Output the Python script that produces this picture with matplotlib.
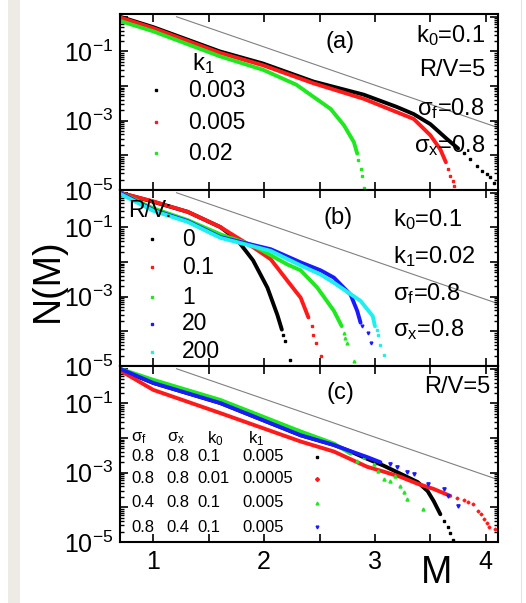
import numpy as np
import matplotlib.pyplot as plt
from matplotlib.ticker import FixedLocator, FixedFormatter, LogLocator, NullFormatter
from matplotlib.patches import Rectangle
from matplotlib.lines import Line2D

plt.rcParams['font.family'] = ['Liberation Sans', 'DejaVu Sans']
plt.rcParams['mathtext.default'] = 'regular'

# reference line (same in every panel)
ref_M = [1.21, 4.11]
ref_logN = [0.0, -3.2]

# panel (a): k1 = 0.003, 0.005, 0.02
a_labels = ['0.003', '0.005', '0.02']
a_black_M = [0.70, 1.0, 1.6, 1.99, 2.445, 2.90, 3.195, 3.35, 3.50, 3.65, 3.75]
a_black_logN = [0.0, -0.30, -1.00, -1.35, -1.87, -2.25, -2.60, -2.81, -3.10, -3.53, -3.80]
a_black_tail_M = [3.80, 3.86, 3.92, 3.97, 4.01, 4.04, 4.07]
a_black_tail_logN = [-3.92, -4.10, -4.30, -4.45, -4.55, -4.62, -4.79]
a_red_M = [0.70, 1.0, 1.6, 1.99, 2.445, 2.90, 3.195, 3.35, 3.50, 3.59, 3.64]
a_red_logN = [-0.02, -0.33, -1.04, -1.40, -1.92, -2.37, -2.75, -2.95, -3.42, -3.83, -4.20]
a_red_tail_M = [3.66, 3.68, 3.70, 3.71]
a_red_tail_logN = [-4.40, -4.60, -4.75, -4.88]
a_green_M = [0.70, 1.0, 1.6, 1.99, 2.29, 2.445, 2.60, 2.72, 2.81, 2.84]
a_green_logN = [-0.12, -0.42, -1.14, -1.53, -1.96, -2.31, -2.66, -3.13, -3.62, -3.95]
a_green_tail_M = [2.85, 2.87, 2.88, 2.90]
a_green_tail_logN = [-4.12, -4.40, -4.59, -4.94]

# panel (b): R/V = 0, 0.1, 1, 20, 200  (k1 = 0.02)
b_labels = ['0', '0.1', '1', '20', '200']
b_black_M = [0.70, 1.0, 1.31, 1.605, 1.76, 1.90, 2.03, 2.12, 2.16]
b_black_logN = [0.0, -0.26, -0.55, -0.99, -1.37, -1.95, -2.74, -3.53, -3.95]
b_black_tail_M = [2.17, 2.19, 2.23]
b_black_tail_logN = [-4.10, -4.29, -4.84]
b_red_M = [0.70, 1.0, 1.31, 1.605, 1.76, 1.90, 2.06, 2.21, 2.33, 2.40]
b_red_logN = [0.0, -0.25, -0.55, -0.99, -1.30, -1.57, -1.92, -2.54, -3.03, -3.60]
b_red_tail_M = [2.43, 2.445, 2.47, 2.51]
b_red_tail_logN = [-3.85, -4.10, -4.35, -4.72]
b_green_M = [0.70, 1.0, 1.31, 1.605, 1.90, 2.21, 2.33, 2.48, 2.63, 2.70]
b_green_logN = [0.0, -0.45, -0.79, -1.20, -1.52, -2.07, -2.24, -2.74, -3.41, -3.85]
b_green_tail_M = [2.72, 2.73, 2.75, 2.81]
b_green_tail_logN = [-4.05, -4.20, -4.34, -4.87]
b_blue_M = [0.70, 1.0, 1.31, 1.605, 2.06, 2.33, 2.51, 2.63, 2.78, 2.84, 2.87]
b_blue_logN = [0.0, -0.50, -0.82, -1.28, -1.63, -2.01, -2.24, -2.45, -2.94, -3.41, -3.75]
b_blue_tail_M = [2.88, 2.94, 2.96]
b_blue_tail_logN = [-3.85, -4.05, -4.34]
b_cyan_M = [0.70, 1.0, 1.31, 1.605, 2.06, 2.33, 2.51, 2.63, 2.87, 2.98, 3.00]
b_cyan_logN = [-0.03, -0.52, -0.84, -1.30, -1.68, -2.10, -2.36, -2.60, -3.12, -3.56, -3.85]
b_cyan_tail_M = [3.02, 3.03, 3.05, 3.08]
b_cyan_tail_logN = [-3.95, -4.11, -4.40, -4.69]

# panel (c): R/V = 5
c_header = ['σ$_f$', 'σ$_x$', 'k$_0$', 'k$_1$']
c_rows = [['0.8', '0.8', '0.1', '0.005'],
          ['0.8', '0.8', '0.01', '0.0005'],
          ['0.4', '0.8', '0.1', '0.005'],
          ['0.8', '0.4', '0.1', '0.005']]
c_black_M = [0.70, 1.0, 1.605, 2.33, 2.63, 2.78, 2.93, 3.08, 3.23, 3.385, 3.475, 3.53, 3.59]
c_black_logN = [-0.02, -0.41, -0.99, -1.92, -2.20, -2.39, -2.60, -2.80, -3.03, -3.27, -3.53, -3.82, -4.20]
c_black_tail_M = [3.62, 3.655, 3.68, 3.70]
c_black_tail_logN = [-4.38, -4.58, -4.75, -4.93]
c_red_M = [0.70, 1.0, 1.605, 2.33, 2.63, 2.93, 3.08, 3.23, 3.385, 3.53, 3.68]
c_red_logN = [-0.05, -0.61, -1.28, -2.10, -2.39, -2.83, -2.97, -3.12, -3.32, -3.47, -3.67]
c_red_tail_M = [3.74, 3.80, 3.84, 3.88, 3.93, 3.96, 3.98, 4.01, 4.03, 4.08]
c_red_tail_logN = [-3.72, -3.80, -3.85, -3.90, -4.11, -4.20, -4.35, -4.45, -4.58, -4.62]
c_green_M = [0.70, 1.0, 1.605, 2.33, 2.63, 2.78]
c_green_logN = [0.0, -0.32, -0.90, -1.81, -2.16, -2.45]
c_green_tail_M = [2.84, 2.90, 2.99, 3.03, 3.08, 3.14, 3.18, 3.23, 3.26, 3.29, 3.43]
c_green_tail_logN = [-2.65, -2.55, -2.74, -2.95, -3.18, -3.24, -3.10, -3.38, -3.56, -3.76, -4.05]
c_blue_M = [0.70, 1.0, 1.605, 2.33, 2.63, 2.78, 2.93, 3.05]
c_blue_logN = [0.0, -0.41, -0.99, -1.92, -2.20, -2.38, -2.55, -2.70]
c_blue_tail_M = [3.14, 3.20, 3.29, 3.35, 3.475, 3.62, 3.655, 3.75]
c_blue_tail_logN = [-2.74, -2.85, -2.97, -3.05, -3.32, -3.47, -3.67, -3.97]

BLACK, RED, GREEN, BLUE, CYAN = 'black', '#ff1a1a', '#1ee81e', '#1a1aff', '#1ef0f0'

fig = plt.figure(figsize=(5.26, 6.03), dpi=100)
fig.add_artist(Rectangle((8 / 526, 0), 12 / 526, 1, transform=fig.transFigure,
                         facecolor='#eeebe6', edgecolor='none'))
fig.add_artist(Line2D([521 / 526, 521 / 526], [0, 1], transform=fig.transFigure,
                      color='#e4e4e4', lw=0.8))

left, width, h = 120 / 526, 378 / 526, 176 / 603
tops = [14, 190, 366]
axes = []
for t in tops:
    ax = fig.add_axes([left, 1 - (t + 176) / 603, width, h])
    axes.append(ax)


def style(ax, bottom_labels):
    ax.set_yscale('log')
    ax.set_xlim(0.70, 4.11)
    ax.set_ylim(1e-5, 1.2)
    ax.yaxis.set_major_locator(FixedLocator([1e-5, 1e-4, 1e-3, 1e-2, 1e-1, 1.0]))
    ax.yaxis.set_major_formatter(FixedFormatter(['10$^{-5}$', '', '10$^{-3}$', '', '10$^{-1}$', '']))
    ax.yaxis.set_minor_locator(LogLocator(base=10, subs=np.arange(2, 10), numticks=20))
    ax.yaxis.set_minor_formatter(NullFormatter())
    ax.set_xticks([1, 1.5, 2, 2.5, 3, 3.5, 4])
    if bottom_labels:
        ax.set_xticklabels(['1', '', '2', '', '3', '', '4'])
    else:
        ax.set_xticklabels([])
    ax.tick_params(which='both', direction='in', top=True, right=True, labelsize=18)
    ax.tick_params(axis='y', which='major', length=5.5, width=1.2, pad=5)
    ax.tick_params(axis='y', which='minor', length=3, width=1.0)
    ax.tick_params(axis='x', which='major', length=6, width=1.2, pad=6)
    for s in ax.spines.values():
        s.set_linewidth(1.5)
    ax.plot(ref_M, 10 ** np.array(ref_logN), color='#808080', lw=0.8, zorder=1)


def series(ax, M, logN, tM, tlogN, color, marker='s', ms=1.5):
    ax.plot(M, 10 ** np.array(logN), color=color, lw=2.8, solid_capstyle='round', zorder=2)
    ax.plot(tM, 10 ** np.array(tlogN), ls='none', marker=marker, ms=ms, color=color,
            mec=color, zorder=2)


ax = axes[0]
style(ax, False)
series(ax, a_black_M, a_black_logN, a_black_tail_M, a_black_tail_logN, BLACK)
series(ax, a_red_M, a_red_logN, a_red_tail_M, a_red_tail_logN, RED)
series(ax, a_green_M, a_green_logN, a_green_tail_M, a_green_tail_logN, GREEN)
ax.text(0.582, 0.84, '(a)', transform=ax.transAxes, fontsize=17, ha='center', va='center')
for txt, y in zip(['k$_0$=0.1', 'R/V=5', 'σ$_f$=0.8', 'σ$_x$=0.8'], [0.88, 0.682, 0.465, 0.255]):
    ax.text(0.966, y, txt, transform=ax.transAxes, fontsize=17, ha='right', va='center')
ax.text(0.22, 0.72, 'k$_1$', transform=ax.transAxes, fontsize=17, ha='center', va='center')
for lab, col, y in zip(a_labels, [BLACK, RED, GREEN], [0.568, 0.386, 0.21]):
    ax.plot([0.095], [y], transform=ax.transAxes, marker='s', ms=1.6, color=col, ls='none')
    ax.text(0.18, y, lab, transform=ax.transAxes, fontsize=16.5, ha='left', va='center')

ax = axes[1]
style(ax, False)
series(ax, b_black_M, b_black_logN, b_black_tail_M, b_black_tail_logN, BLACK)
series(ax, b_red_M, b_red_logN, b_red_tail_M, b_red_tail_logN, RED)
series(ax, b_green_M, b_green_logN, b_green_tail_M, b_green_tail_logN, GREEN, marker='^', ms=2)
series(ax, b_blue_M, b_blue_logN, b_blue_tail_M, b_blue_tail_logN, BLUE, marker='v', ms=2)
series(ax, b_cyan_M, b_cyan_logN, b_cyan_tail_M, b_cyan_tail_logN, CYAN)
ax.text(0.577, 0.84, '(b)', transform=ax.transAxes, fontsize=17, ha='center', va='center')
for txt, y in zip(['k$_0$=0.1', 'k$_1$=0.02', 'σ$_f$=0.8', 'σ$_x$=0.8'], [0.83, 0.62, 0.41, 0.205]):
    ax.text(0.722, y, txt, transform=ax.transAxes, fontsize=17, ha='left', va='center')
ax.text(0.021, 0.886, 'R/V:', transform=ax.transAxes, fontsize=16.5, ha='left', va='center')
for lab, col, y in zip(b_labels, [BLACK, RED, GREEN, BLUE, CYAN], [0.72, 0.56, 0.392, 0.239, 0.08]):
    ax.plot([0.085], [y], transform=ax.transAxes, marker='s', ms=1.6, color=col, ls='none')
    ax.text(0.164, y, lab, transform=ax.transAxes, fontsize=16.5, ha='left', va='center')

ax = axes[2]
style(ax, True)
series(ax, c_black_M, c_black_logN, c_black_tail_M, c_black_tail_logN, BLACK)
series(ax, c_red_M, c_red_logN, c_red_tail_M, c_red_tail_logN, RED, marker='D', ms=1.5)
series(ax, c_green_M, c_green_logN, c_green_tail_M, c_green_tail_logN, GREEN, marker='^', ms=2.2)
series(ax, c_blue_M, c_blue_logN, c_blue_tail_M, c_blue_tail_logN, BLUE, marker='v', ms=2.4)
ax.text(0.582, 0.847, '(c)', transform=ax.transAxes, fontsize=17, ha='center', va='center')
ax.text(0.979, 0.88, 'R/V=5', transform=ax.transAxes, fontsize=17, ha='right', va='center')
col_x = [0.029, 0.124, 0.206, 0.325]
head_x = [0.029, 0.124, 0.23, 0.339]
for txt, x in zip(c_header, head_x):
    ax.text(x, 0.59, txt, transform=ax.transAxes, fontsize=12, ha='left', va='center')
row_y = [0.483, 0.358, 0.222, 0.085]
for row, y, col, mk in zip(c_rows, row_y, [BLACK, RED, GREEN, BLUE], ['s', 'D', '^', 'v']):
    for txt, x in zip(row, col_x):
        ax.text(x, y, txt, transform=ax.transAxes, fontsize=12, ha='left', va='center')
    ax.plot([0.521], [y], transform=ax.transAxes, marker=mk, ms=2.0, color=col, ls='none')

fig.text(437 / 526, 1 - 573 / 603, 'M', fontsize=27, ha='center', va='center')
fig.text(48 / 526, 1 - 280 / 603, 'N(M)', fontsize=27, ha='center', va='center', rotation=90)

fig.savefig('out.png', dpi=100)
